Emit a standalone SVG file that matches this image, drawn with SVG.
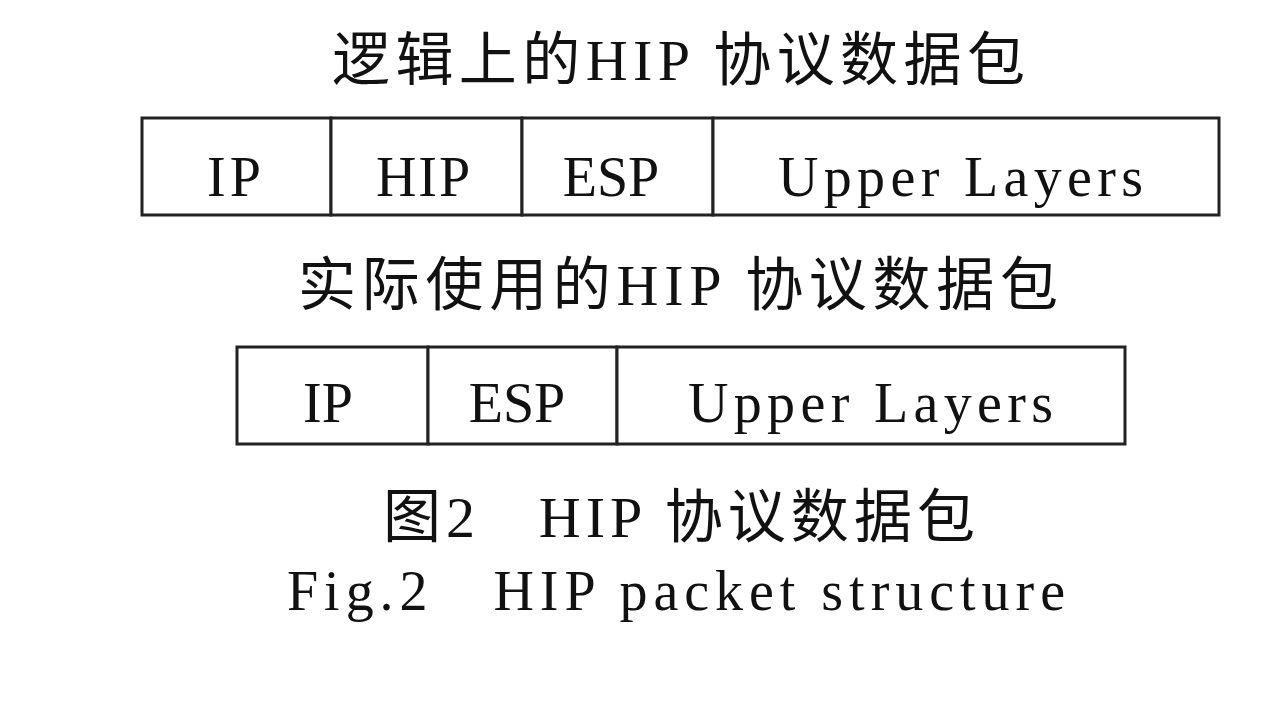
<svg xmlns="http://www.w3.org/2000/svg" width="1280" height="720" viewBox="0 0 1280 720">
<style>
.t{font-family:"Liberation Serif","Noto Sans CJK SC",serif;font-size:58px;fill:#111;}
.c{font-family:"Liberation Serif","Noto Sans CJK SC",serif;font-size:56px;fill:#111;}
.box{fill:#fff;stroke:#222;stroke-width:3;}
</style>
<rect width="1280" height="720" fill="#fff"/>
<g id="title1"><text class="t" x="332" y="80" textLength="693" lengthAdjust="spacing">逻辑上的HIP 协议数据包</text></g>
<g id="packet1">
  <g id="p1-ip"><rect class="box" x="142" y="118" width="189" height="97"/><text class="c" x="236" y="196" text-anchor="middle" letter-spacing="4">IP</text></g>
  <g id="p1-hip"><rect class="box" x="331" y="118" width="191" height="97"/><text class="c" x="424" y="196" text-anchor="middle" letter-spacing="2">HIP</text></g>
  <g id="p1-esp"><rect class="box" x="522" y="118" width="191" height="97"/><text class="c" x="611" y="196" text-anchor="middle">ESP</text></g>
  <g id="p1-upper"><rect class="box" x="713" y="118" width="506" height="97"/><text class="c" x="778" y="196" textLength="365" lengthAdjust="spacing">Upper Layers</text></g>
</g>
<g id="title2"><text class="t" x="298" y="305" textLength="760" lengthAdjust="spacing">实际使用的HIP 协议数据包</text></g>
<g id="packet2">
  <g id="p2-ip"><rect class="box" x="237" y="347" width="191" height="97"/><text class="c" x="328" y="422" text-anchor="middle">IP</text></g>
  <g id="p2-esp"><rect class="box" x="428" y="347" width="189" height="97"/><text class="c" x="517" y="422" text-anchor="middle">ESP</text></g>
  <g id="p2-upper"><rect class="box" x="617" y="347" width="508" height="97"/><text class="c" x="688" y="422" textLength="365" lengthAdjust="spacing">Upper Layers</text></g>
</g>
<g id="caption">
  <text class="t" x="383" y="537" textLength="592" lengthAdjust="spacing" xml:space="preserve">图2   HIP 协议数据包</text>
  <text class="c" x="287" y="610" textLength="778" lengthAdjust="spacing" xml:space="preserve">Fig.2   HIP packet structure</text>
</g>
</svg>
